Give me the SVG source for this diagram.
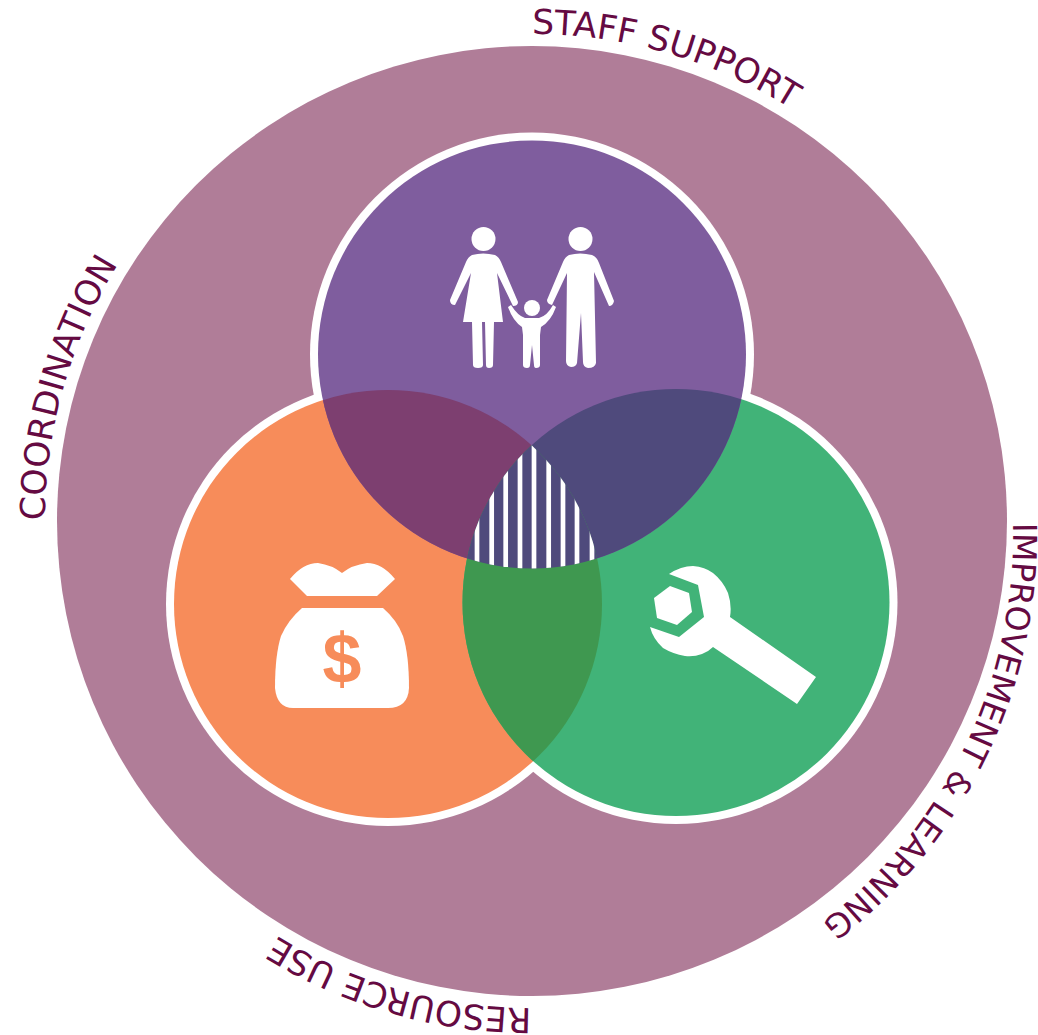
<svg xmlns="http://www.w3.org/2000/svg" width="1038" height="1035" viewBox="0 0 1038 1035">
<style>
.ring{fill:#fff}
.lbl{font-family:"DejaVu Sans",Verdana,sans-serif;font-size:34.5px;fill:#650a42}
.ico{fill:#fff}
</style>
<defs>
<circle id="cP" cx="532" cy="354.5" r="214"/>
<circle id="cO" cx="388" cy="604" r="214"/>
<circle id="cG" cx="676" cy="602.500" r="213.500"/>
<clipPath id="inP"><use href="#cP"/></clipPath>
<clipPath id="inO"><use href="#cO"/></clipPath>
<clipPath id="inG"><use href="#cG"/></clipPath>
<path id="t1" d="M532 34A487 487 0 1 1 531.900 34"/>
<path id="t2" d="M1012.900 523A488 488 0 0 1 525 1023"/>
</defs>
<rect width="1038" height="1035" fill="#fff"/>
<g id="outer"><circle cx="532" cy="521" r="475" fill="#b07d98"/></g>
<g id="labels">
<text class="lbl"><textPath href="#t1" startOffset="0">STAFF SUPPORT</textPath></text>
<text class="lbl" style="font-size:33px"><textPath href="#t2">IMPROVEMENT &amp; LEARNING</textPath></text>
<text class="lbl"><textPath href="#t1" startOffset="1530">RESOURCE USE</textPath></text>
<text class="lbl"><textPath href="#t1" startOffset="2295">COORDINATION</textPath></text>
</g>
<g id="rings">
<circle class="ring" cx="532" cy="354.5" r="222"/>
<circle class="ring" cx="388" cy="604" r="222"/>
<circle class="ring" cx="676" cy="602.500" r="221.500"/>
</g>
<g id="venn">
<use href="#cO" fill="#f78c5a"/>
<use href="#cG" fill="#41b378"/>
<use href="#cP" fill="#7f5d9e"/>
<g clip-path="url(#inP)"><use href="#cO" fill="#7d3f70"/></g>
<g clip-path="url(#inP)"><use href="#cG" fill="#4f4a7c"/></g>
<g clip-path="url(#inO)"><use href="#cG" fill="#3f9850"/></g>
<g clip-path="url(#inP)"><g clip-path="url(#inO)"><g clip-path="url(#inG)">
<rect x="460" y="440" width="150" height="135" fill="#4f4a7c"/>
<path d="M477 440V575M491.700 440V575M505.700 440V575M520 440V575M534 440V575M548.700 440V575M563 440V575M577 440V575M592 440V575" stroke="#fff" stroke-width="4.700" fill="none"/>
</g></g></g>
</g>
<g id="family" class="ico">
<circle cx="483.500" cy="239" r="12"/>
<path d="M472 255Q483 252 495 255Q499 257 501 262L518 302Q518 306 513 306L497 273L503 322H463L471 273L455 305Q450 305 450 300L466 262Q468 257 472 255Z"/>
<path d="M472 322H482L483 365Q483 368 478 368Q473 368 473 365Z"/>
<path d="M485 322H494L493 365Q493 368 489 368Q486 368 486 365Z"/>
<circle cx="580.500" cy="239" r="12"/>
<path d="M569 255Q580 252 592 255Q597 257 599 263L614 301Q613 306 609 306L594 272L596 363Q595 368 588 368Q583 367 583 362L581 313L577 363Q576 367 571 367Q566 366 566 361L567 273L552 305Q547 304 547 300L563 262Q565 257 569 255Z"/>
<circle cx="532" cy="308" r="8"/>
<path d="M508 307L511 305Q518 316 525 318H539Q547 316 553 305L556 307Q551 321 541 327L540 335V365Q540 368 536 368Q534 368 534 365L532 345L530 365Q530 368 527 368Q523 368 523 365V335L522 327Q513 321 508 307Z"/>
</g>
<g id="bag" class="ico">
<path d="M290 579Q303 563 318 563Q332 565 342 573Q352 565 367 563Q382 563 395 579L377 596H307Z"/>
<path d="M302 608H383Q397 620 403 636Q409 655 409 688Q408 708 388 708H293Q277 708 275 688Q275 655 281 636Q288 620 302 608Z"/>
<text x="342" y="683" text-anchor="middle" font-family="'Liberation Sans',Arial,sans-serif" font-weight="700" font-size="70" fill="#f78c5a">$</text>
</g>
<g id="wrench" class="ico">
<path d="M669 574Q681 566 693 566Q705 567 713 573Q723 581 728 593Q732 605 730 617L816 677L797 704L713 647Q708 652 702 654Q694 657 685 656Q673 654 663 648Q653 639 650 627L679 637L704 617L698 585Z"/>
<path d="M670 586L689 593L692 612L677 625L657 618L654 598Z"/>
</g>
</svg>
